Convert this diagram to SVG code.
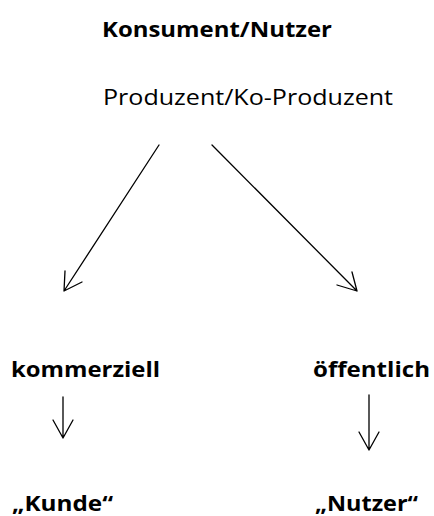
<svg xmlns="http://www.w3.org/2000/svg" width="434" height="516" viewBox="0 0 434 516">
<style>
.t{font-family:"Open Sans","Liberation Sans",sans-serif;fill:#000}
.b{font-weight:bold}
.c{stroke:#000;stroke-width:1.3;fill:none;stroke-linecap:round;stroke-linejoin:round}
</style>
<rect width="434" height="516" fill="#fff"/>
<g id="konsument"><text class="t b" x="102" y="37" font-size="21" textLength="230" lengthAdjust="spacingAndGlyphs">Konsument/Nutzer</text></g>
<g id="produzent"><text class="t" x="103" y="105" font-size="21.5" textLength="290" lengthAdjust="spacingAndGlyphs">Produzent/Ko-Produzent</text></g>
<g id="kommerziell"><text class="t b" x="11" y="377" font-size="20.5" textLength="149" lengthAdjust="spacingAndGlyphs">kommerziell</text></g>
<g id="oeffentlich"><text class="t b" x="313" y="377" font-size="20.5" textLength="117" lengthAdjust="spacingAndGlyphs">öffentlich</text></g>
<g id="kunde"><text class="t b" x="12" y="511" font-size="21" textLength="101" lengthAdjust="spacingAndGlyphs">„Kunde“</text></g>
<g id="nutzer"><text class="t b" x="315" y="511" font-size="21" textLength="103" lengthAdjust="spacingAndGlyphs">„Nutzer“</text></g>
<g id="connectors" class="c">
<path d="M159 145 L64 291 M65 271 L64 291 L82 282"/>
<path d="M212 145 L357 291 M337 285 L357 291 L352 272"/>
<path d="M63 397 L63 438 M53 420 L63 438 L73 420"/>
<path d="M369 395 L369 450 M359 432 L369 450 L379 432"/>
</g>
</svg>
